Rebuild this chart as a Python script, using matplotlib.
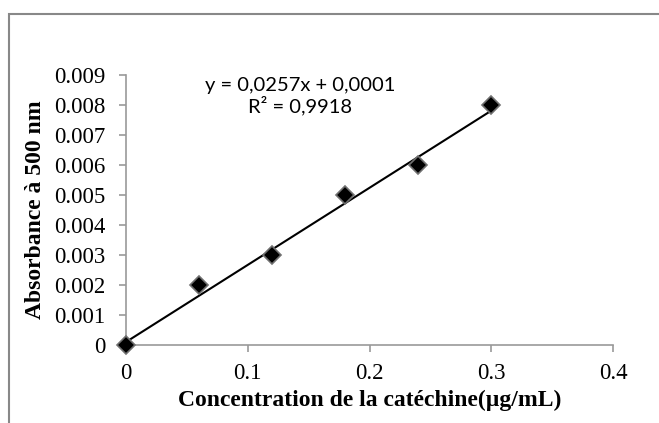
import matplotlib.pyplot as plt
import numpy as np
from matplotlib.patches import Rectangle

# catechin calibration data
conc = [0, 0.06, 0.12, 0.18, 0.24, 0.3]
absorb = [0, 0.002, 0.003, 0.005, 0.006, 0.008]
slope = 0.0257
intercept = 0.0001
xticks = [0, 0.1, 0.2, 0.3, 0.4]
xtick_labels = ['0', '0.1', '0.2', '0.3', '0.4']
yticks = [0, 0.001, 0.002, 0.003, 0.004, 0.005, 0.006, 0.007, 0.008, 0.009]
ytick_labels = ['0', '0.001', '0.002', '0.003', '0.004', '0.005', '0.006',
                '0.007', '0.008', '0.009']

fig = plt.figure(figsize=(6.59, 4.23), dpi=100)
ax = fig.add_axes([126 / 659, 78 / 423, 487 / 659, 270 / 423])

# trendline
xl = np.array([conc[0], conc[-1]])
ax.plot(xl, slope * xl + intercept, color='black', lw=1.5, zorder=2)
ax.plot(conc, absorb, ls='none', marker='D', ms=9, mfc='black',
        mec='#707070', mew=1.2, zorder=3, clip_on=False)

ax.set_xlim(0, 0.4)
ax.set_ylim(0, 0.009)
ax.set_xticks(xticks)
ax.set_xticklabels(xtick_labels)
ax.set_yticks(yticks)
ax.set_yticklabels(ytick_labels)

for s in ['top', 'right']:
    ax.spines[s].set_visible(False)
for s in ['left', 'bottom']:
    ax.spines[s].set_color('#999999')
    ax.spines[s].set_linewidth(1.2)
ax.tick_params(colors='#999999', length=5, width=1.2, labelcolor='black',
               labelsize=16.5)
ax.tick_params(axis='y', pad=10)
ax.tick_params(axis='x', pad=8)
for lab in ax.get_xticklabels() + ax.get_yticklabels():
    lab.set_fontfamily('Liberation Serif')

ax.set_xlabel('Concentration de la catéchine(µg/mL)', fontfamily='Liberation Serif',
              fontweight='bold', fontsize=17, labelpad=4)
ax.set_ylabel('Absorbance à 500 nm', fontfamily='Liberation Serif',
              fontweight='bold', fontsize=17)
ax.yaxis.set_label_coords(-80 / 487, 0.5)

ax.text(0.1428, 0.00865, 'y = 0,0257x + 0,0001', ha='center', va='center',
        fontfamily='Lato', fontsize=14.5)
ax.text(0.1428, 0.00797, 'R² = 0,9918', ha='center', va='center',
        fontfamily='Lato', fontsize=14.5)

# chart border
fig.patches.append(Rectangle((9 / 659, -0.1), 1.2, (423 - 14) / 423 + 0.1,
                             transform=fig.transFigure, fill=False,
                             edgecolor='#888888', lw=1.5))

fig.savefig('out.png', dpi=100)
